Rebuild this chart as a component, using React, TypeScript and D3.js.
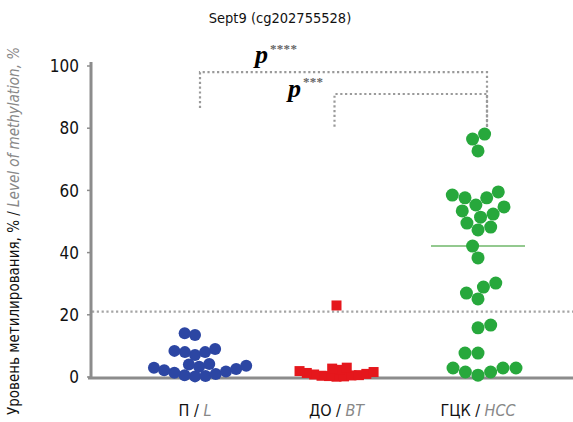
import React, { useEffect, useRef } from 'react';
import * as d3 from 'd3';

// groups on the x axis
const categories = ['П', 'ДО', 'ГЦК'];
const categoryLatin = ['L', 'BT', 'HCC'];

// methylation level, %
const normalLiver = [14.1, 13.5, 9.0, 8.4, 8.0, 8.0, 7.1, 4.2, 4.0, 3.6, 3.3, 3.0, 2.6, 2.2, 1.8, 1.4, 1.0, 0.6, 0.3, 0.2];
const benignTumor = [23.0, 3.0, 2.7, 2.3, 1.9, 1.6, 1.3, 1.0, 0.8, 0.6, 0.5, 0.4, 0.3, 0.2, 0.1];
const hcc = [
  78.1, 76.5, 72.7, 59.5, 58.5, 57.6, 57.6, 55.3, 54.7, 53.4, 52.4, 51.4, 49.5, 48.2, 47.3, 42.1,
  38.3, 30.2, 28.9, 27.0, 25.1, 16.7, 15.8, 7.7, 7.7, 2.9, 2.9, 2.9, 1.6, 1.6, 0.6,
];

const yTicks = [0, 20, 40, 60, 80, 100];
const cutoff = 21; // dotted threshold line

// significance brackets
const brackets = [
  { from: 'П', to: 'ГЦК', top: 98, leftEnd: 86.5, rightEnd: 80, stars: '****' },
  { from: 'ДО', to: 'ГЦК', top: 91, leftEnd: 80.5, rightEnd: 80, stars: '***' },
];

const FONT = "'Liberation Sans Narrow', 'DejaVu Sans Condensed', 'Noto Sans', sans-serif";

// simple beeswarm: lowest values near the center line, alternating sides
function swarm(values, y, d) {
  const pts = values.map((v) => ({ v, y: y(v), x: 0 })).sort((a, b) => a.v - b.v);
  const placed = [];
  let flip = false;
  pts.forEach((p) => {
    const cands = [0];
    placed.forEach((q) => {
      const dy = p.y - q.y;
      if (Math.abs(dy) < d) {
        const dx = Math.sqrt(d * d - dy * dy);
        cands.push(q.x + dx, q.x - dx);
      }
    });
    cands.sort((a, b) => Math.abs(a) - Math.abs(b) || (flip ? a - b : b - a));
    for (const c of cands) {
      if (placed.every((q) => (q.x - c) ** 2 + (q.y - p.y) ** 2 >= d * d - 0.01)) {
        p.x = c;
        break;
      }
    }
    if (p.x !== 0) flip = p.x > 0;
    placed.push(p);
  });
  return placed;
}

const App = () => {
  const svgRef = useRef(null);

  useEffect(() => {
    const w = 573;
    const h = 422;
    const svg = d3.select(svgRef.current).attr('width', w).attr('height', h);
    svg.selectAll('*').remove();

    const x = d3.scalePoint().domain(categories).range([195, 478]);
    const y = d3.scaleLinear().domain([0, 100]).range([377, 66]);
    const gray = '#8c8c8c';

    // threshold line
    svg
      .append('line')
      .attr('x1', 92)
      .attr('x2', w)
      .attr('y1', y(cutoff))
      .attr('y2', y(cutoff))
      .attr('stroke', '#a5a5a5')
      .attr('stroke-width', 2.2)
      .attr('stroke-dasharray', '2.2,2.6');

    // brackets
    brackets.forEach((b) => {
      const x1 = x(b.from) + (b.from === 'П' ? 5 : -2);
      const x2 = x(b.to) + 9;
      svg
        .append('path')
        .attr('d', `M${x1},${y(b.leftEnd)}V${y(b.top)}H${x2}V${y(b.rightEnd)}`)
        .attr('fill', 'none')
        .attr('stroke', '#9a9a9a')
        .attr('stroke-width', 2.2)
        .attr('stroke-dasharray', '2.2,2.6');
    });

    const pLabels = [
      { px: 255, py: 63, sx: 270, sy: 53 },
      { px: 288, py: 97, sx: 303, sy: 86 },
    ];
    pLabels.forEach((p, i) => {
      svg
        .append('text')
        .attr('x', p.px)
        .attr('y', p.py)
        .attr('font-family', "'Liberation Serif', serif")
        .attr('font-weight', 'bold')
        .attr('font-style', 'italic')
        .attr('font-size', 26)
        .text('p');
      svg
        .append('text')
        .attr('x', p.sx)
        .attr('y', p.sy)
        .attr('font-family', "'Liberation Serif', serif")
        .attr('font-size', 13)
        .attr('font-weight', 'bold')
        .attr('fill', '#666')
        .attr('letter-spacing', 0.3)
        .text(brackets[i].stars);
    });

    // hcc median
    const med = d3.median(hcc);
    svg
      .append('line')
      .attr('x1', x('ГЦК') - 47)
      .attr('x2', x('ГЦК') + 47)
      .attr('y1', y(med))
      .attr('y2', y(med))
      .attr('stroke', '#93c98f')
      .attr('stroke-width', 2);

    // axes
    svg
      .append('line')
      .attr('x1', 88)
      .attr('x2', w)
      .attr('y1', y(0) + 1)
      .attr('y2', y(0) + 1)
      .attr('stroke', gray)
      .attr('stroke-width', 3);

    const yAxis = svg.append('g').attr('transform', 'translate(91,0)');
    yAxis
      .append('line')
      .attr('y1', y(100) - 4)
      .attr('y2', y(0) + 2)
      .attr('stroke', gray)
      .attr('stroke-width', 3);
    yAxis
      .selectAll('.tick')
      .data(yTicks)
      .join('line')
      .attr('x1', -4)
      .attr('x2', 0)
      .attr('y1', (d) => y(d))
      .attr('y2', (d) => y(d))
      .attr('stroke', gray)
      .attr('stroke-width', 1.5);
    yAxis
      .selectAll('.lbl')
      .data(yTicks)
      .join('text')
      .attr('x', -12)
      .attr('y', (d) => y(d))
      .attr('dy', '0.36em')
      .attr('text-anchor', 'end')
      .attr('font-family', FONT)
      .attr('font-size', 17)
      .attr('fill', '#111')
      .text((d) => d);

    // points
    const blue = swarm(normalLiver, y, 10.5);
    svg
      .append('g')
      .selectAll('circle')
      .data(blue)
      .join('circle')
      .attr('cx', (d) => x('П') + d.x)
      .attr('cy', (d) => d.y)
      .attr('r', 6)
      .attr('fill', '#2c46a3');

    const red = swarm(benignTumor, y, 7.5);
    svg
      .append('g')
      .selectAll('rect')
      .data(red)
      .join('rect')
      .attr('x', (d) => x('ДО') + d.x - 5)
      .attr('y', (d) => d.y - 5)
      .attr('width', 10)
      .attr('height', 10)
      .attr('fill', '#e5171c');

    const green = swarm(hcc, y, 13);
    svg
      .append('g')
      .selectAll('circle')
      .data(green)
      .join('circle')
      .attr('cx', (d) => x('ГЦК') + d.x)
      .attr('cy', (d) => d.y)
      .attr('r', 6.5)
      .attr('fill', '#27a83c');

    // category labels
    const xl = svg
      .append('g')
      .selectAll('text')
      .data(categories)
      .join('text')
      .attr('x', (d) => x(d))
      .attr('y', 416)
      .attr('text-anchor', 'middle')
      .attr('font-family', FONT)
      .attr('font-size', 16);
    xl.append('tspan').attr('fill', '#111').text((d) => d + ' / ');
    xl.append('tspan')
      .attr('fill', '#888')
      .attr('font-style', 'italic')
      .text((d, i) => categoryLatin[i]);

    // title
    svg
      .append('text')
      .attr('x', 280)
      .attr('y', 23)
      .attr('text-anchor', 'middle')
      .attr('font-family', FONT)
      .attr('font-size', 14.5)
      .attr('fill', '#111')
      .text('Sept9 (cg202755528)');

    // y title
    const yt = svg
      .append('text')
      .attr('transform', 'translate(19,231) rotate(-90)')
      .attr('text-anchor', 'middle')
      .attr('font-family', FONT)
      .attr('font-size', 15);
    yt.append('tspan').attr('fill', '#111').text('Уровень метилирования, % / ');
    yt.append('tspan').attr('fill', '#888').attr('font-style', 'italic').text('Level of methylation, %');
  }, []);

  return (
    <svg ref={svgRef} style={{ position: 'absolute', left: 0, top: 0, background: '#fff' }}></svg>
  );
};

export default App;
